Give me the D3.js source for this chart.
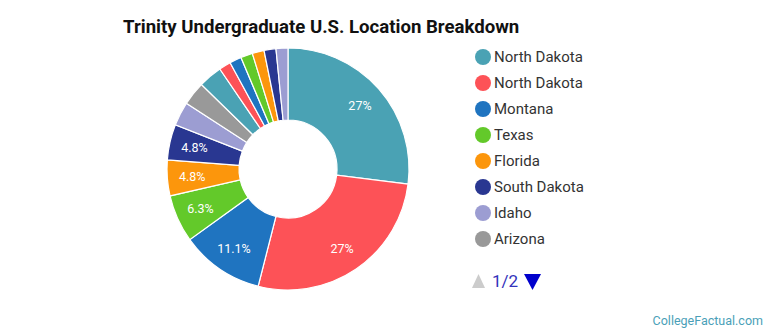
<!DOCTYPE html>
<html>
<head>
<meta charset="utf-8">
<script src="https://cdn.jsdelivr.net/npm/d3@7"></script>
<style>
  body { margin: 0; background: #fff; }
  text { font-family: Roboto, "Open Sans", sans-serif; }
</style>
</head>
<body>
<div class="pie-chart"></div>
<script>
// slice data (63 students)
const states = ["North Dakota", "North Dakota", "Montana", "Texas", "Florida", "South Dakota", "Idaho", "Arizona",
                "Minnesota", "California", "Colorado", "Washington", "Oregon", "Wyoming", "Nebraska"];
const counts = [17, 17, 7, 4, 3, 3, 2, 2, 2, 1, 1, 1, 1, 1, 1];
const colors = ["#4aa2b4", "#fd5257", "#1f74c0", "#63c92a", "#fc960c", "#293791", "#9c9dd2", "#999999"];
const legendPage = 8;

const width = 770;
const height = 335;
const svg = d3.select(".pie-chart")
              .append("svg")
              .attr("width", width)
              .attr("height", height);

const cx = 288, cy = 169;
const outerR = 121, innerR = 49;

const total = d3.sum(counts);
const data = states.map((s, i) => ({name: s, value: counts[i], idx: i}));

const color = d3.scaleOrdinal()
                .domain(d3.range(states.length))
                .range(colors);

const pie = d3.pie()
              .value(d => d.value)
              .sort(null);

const arc = d3.arc().innerRadius(innerR).outerRadius(outerR);
const labelArc = d3.arc().innerRadius(96).outerRadius(96);

const g = svg.append("g").attr("transform", `translate(${cx},${cy})`);

g.selectAll("path")
  .data(pie(data))
  .join("path")
  .attr("d", arc)
  .attr("fill", d => color(d.data.idx))
  .attr("stroke", "#fff")
  .attr("stroke-width", 1.2);

const fmt = v => {
    let p = v / total * 100;
    return p >= 20 ? Math.round(p) + "%" : p.toFixed(1) + "%";
};

g.selectAll("text.lbl")
  .data(pie(data).filter(d => d.data.value / total >= 0.04))
  .join("text")
  .attr("class", "lbl")
  .attr("transform", d => `translate(${labelArc.centroid(d)})`)
  .attr("text-anchor", "middle")
  .attr("dy", "0.35em")
  .attr("fill", "#fff")
  .attr("font-size", 12.5)
  .text(d => fmt(d.data.value));

// title
svg.append("text")
   .attr("x", 123)
   .attr("y", 33)
   .attr("font-size", 18.6)
   .attr("font-weight", "bold")
   .attr("fill", "#111")
   .text("Trinity Undergraduate U.S. Location Breakdown");

// legend
const legend = svg.append("g").attr("transform", "translate(483,57)");
const rows = legend.selectAll("g")
    .data(data.slice(0, legendPage))
    .join("g")
    .attr("transform", (d, i) => `translate(0,${i * 26})`);
rows.append("circle")
    .attr("r", 8)
    .attr("fill", d => color(d.idx));
rows.append("text")
    .attr("x", 11)
    .attr("dy", "0.36em")
    .attr("font-size", 15)
    .attr("fill", "#333")
    .text(d => d.name);

// pager
const pager = svg.append("g").attr("transform", "translate(0,281)");
pager.append("path")
     .attr("d", "M472,7 L478.5,-7 L485,7 Z")
     .attr("fill", "#cccccc");
pager.append("text")
     .attr("x", 492)
     .attr("dy", "0.36em")
     .attr("font-size", 17)
     .attr("fill", "#3333bb")
     .text("1/" + Math.ceil(states.length / legendPage));
pager.append("path")
     .attr("d", "M524,-7 L541,-7 L532.5,9 Z")
     .attr("fill", "#0000cc");

// credit
svg.append("text")
   .attr("x", 763)
   .attr("y", 325)
   .attr("text-anchor", "end")
   .attr("font-size", 12.5)
   .attr("fill", "#4a9fb8")
   .text("CollegeFactual.com");
</script>
</body>
</html>
